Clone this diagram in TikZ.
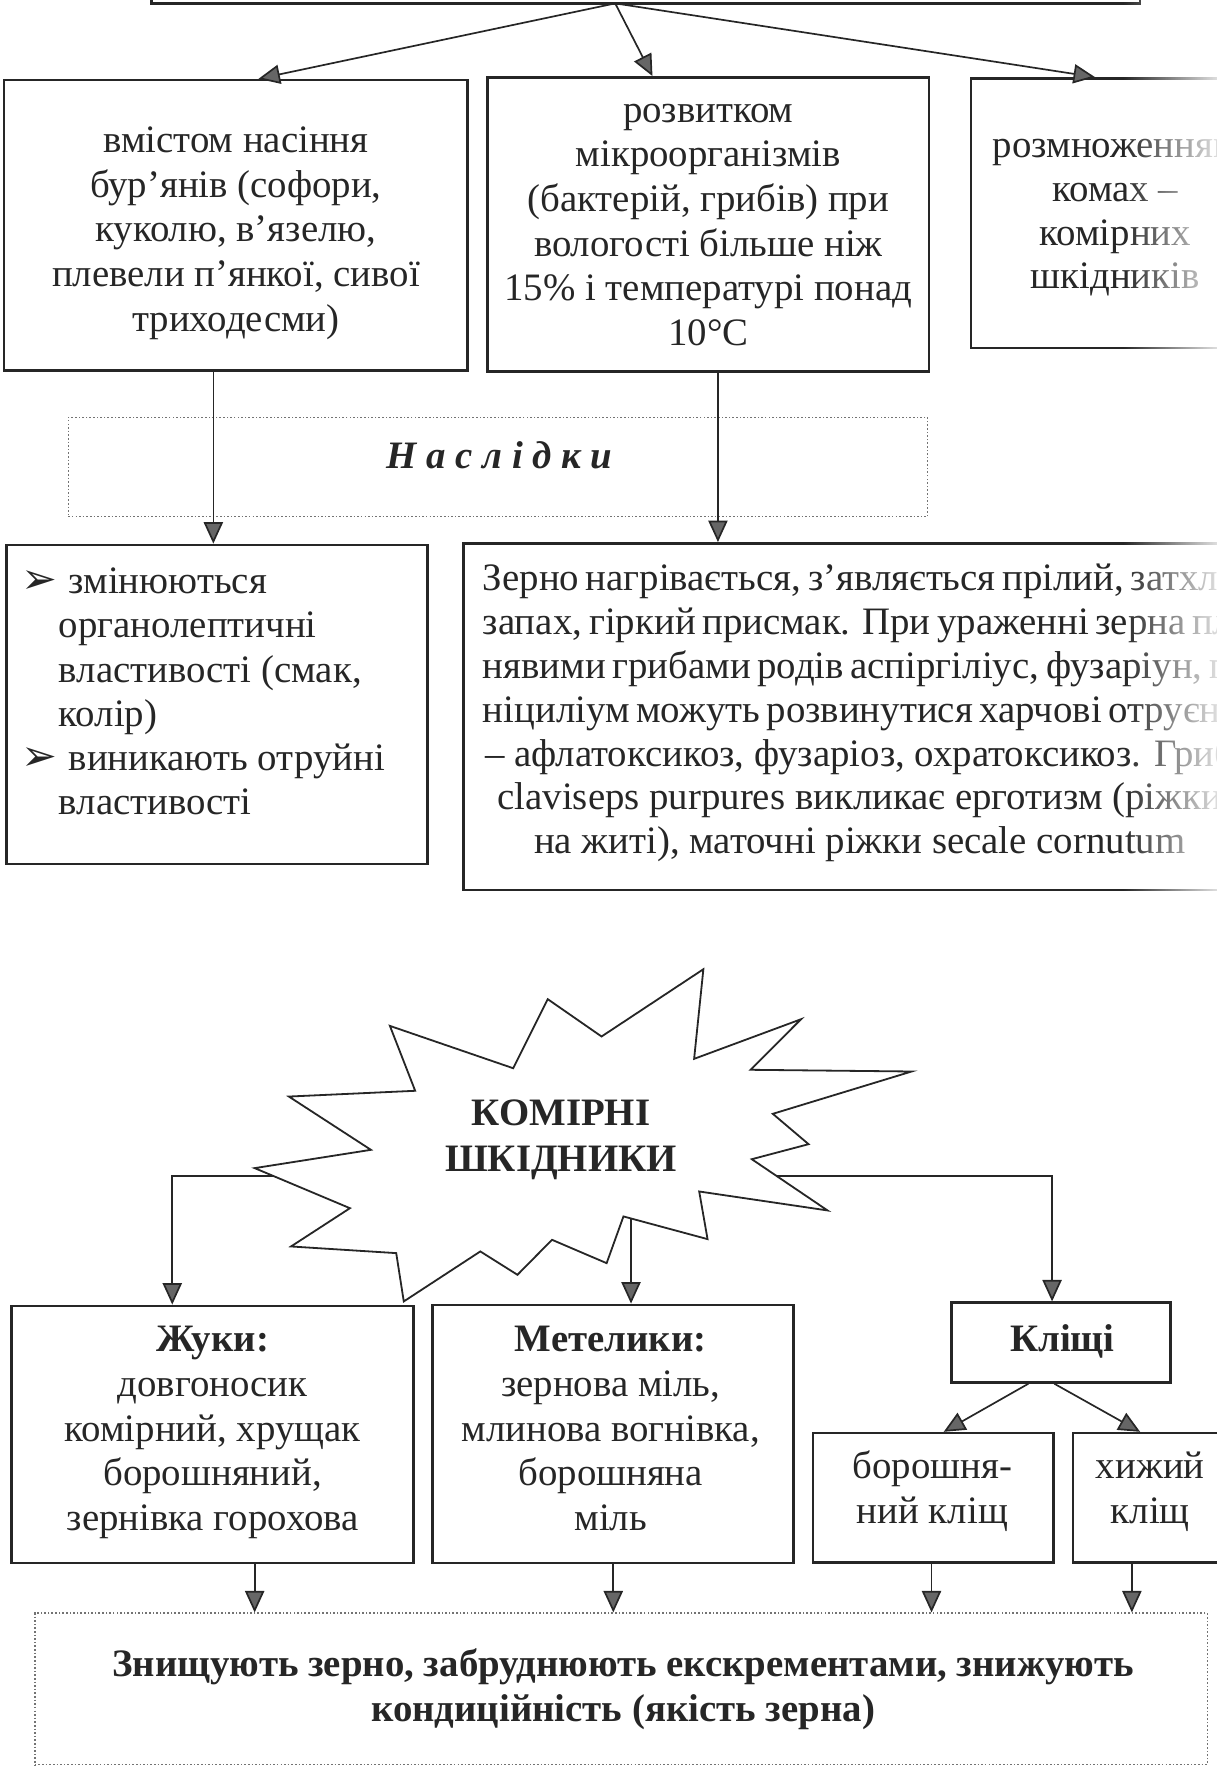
\documentclass[tikz,border=0pt]{standalone}
\usepackage{fontspec}
\setmainfont{Liberation Serif}
\newfontfamily\dejavu{DejaVu Sans}
\usetikzlibrary{arrows.meta,fit,fadings}
\newcommand{\bulmark}{\makebox[20.75pt][l]{\dejavu\fontsize{19pt}{19pt}\selectfont ➢}}
\begin{document}
\begin{tikzpicture}[x=0.5pt,y=-0.5pt,
  box/.style={draw=black!85,line width=1.1pt,inner sep=0pt},
  dbox/.style={draw=black!55,line width=0.6pt,dash pattern=on 0.7pt off 0.9pt,inner sep=0pt},
  txt/.style={inner sep=0pt,text=black!85,align=center,font=\fontsize{17.2pt}{19.8pt}\selectfont},
  btxt/.style={txt,font=\fontsize{17.2pt}{19.8pt}\selectfont\bfseries},
  arr/.style={draw=black!85,line width=0.75pt,-{Triangle[length=9.5pt,width=8.5pt,fill=black!60]}},
  ln/.style={draw=black!85,line width=0.75pt}]
\path[use as bounding box] (0,0) rectangle (1078,1568);
\clip (0,0) rectangle (1078,1568);

% ---------- upper part ----------
\node[box,fit={(134,-40)(1010,3)}] (top) {};
\node[box,fit={(3.4,70.9)(414,328.3)}] (b1) {};
\node[box,fit={(432,68.5)(823,329.2)}] (b2) {};
\node[box,fit={(860,69.4)(1100,308.5)}] (b3) {};

\node[txt,anchor=north,font=\fontsize{17.2pt}{19.9pt}\selectfont] (b1t) at (209,106.5)
 {\strut вмістом насіння\\бур’янів (софори,\\куколю, в’язелю,\\плевели п’янкої, сивої\\триходесми)};
\node[txt,anchor=north] (b2t) at (627.5,80.1)
 {\strut розвитком\\мікроорганізмів\\(бактерій, грибів) при\\вологості більше ніж\\15\% і температурі понад\\10°C};
\node[txt,anchor=north,font=\fontsize{17.2pt}{19.4pt}\selectfont] (b3t) at (988,112)
 {\strut розмноженням\\комах –\\комірних\\шкідників};

\coordinate (src) at (545,3);
\draw[arr] (src) -- (229,0 |- b1.north);
\draw[arr] (src) -- (578,0 |- b2.north);
\draw[arr] (src) -- (970,0 |- b3.north);

\node[dbox,fit={(60.5,369.7)(821.8,457.6)}] (nasl) {};
\node[txt,anchor=base,font=\fontsize{17.2pt}{19.8pt}\selectfont\bfseries\itshape] (naslt) at (442.5,414.8)
 {Н а с л і д к и};

\node[box,fit={(5.9,482.7)(378.8,765.6)}] (b4) {};
\node[box,fit={(410.5,481.3)(1113,788.3)}] (b5) {};

\draw[arr] (189,0 |- b1.south) -- (189,0 |- b4.north);
\draw[arr] (636,0 |- b2.south) -- (636,0 |- b5.north);

\node[txt,align=left,anchor=north west,font=\fontsize{17.2pt}{19.6pt}\selectfont] (b4t) at (19,498)
 {\strut\bulmark змінюються\\
  \hspace*{16.35pt}органолептичні\\
  \hspace*{16.35pt}властивості (смак,\\
  \hspace*{16.35pt}колір)\\
  \bulmark виникають отруйні\\
  \hspace*{16.35pt}властивості};

\node[txt,anchor=north,font=\fontsize{17.2pt}{19.45pt}\selectfont] (b5t) at (761.6,495.4)
 {\strut\makebox[333.8pt][s]{Зерно нагрівається, з’являється прілий, затхлий}\\
  \makebox[333.8pt][s]{запах, гіркий присмак. При ураженні зерна плі-}\\
  \makebox[333.8pt][s]{нявими грибами родів аспіргіліус, фузаріун, пе-}\\
  \makebox[333.8pt][s]{ніциліум можуть розвинутися харчові отруєння}\\
  – афлатоксикоз, фузаріоз, охратоксикоз. Гриб\\
  claviseps purpures викликає ерготизм (ріжки\\
  на житі), маточні ріжки secale cornutum};

% fading of the scanned page edge
\fill[white,opacity=0.85,path fading=west] (995,0) rectangle (1078,830);

% ---------- lower part ----------
\draw[draw=black!85,line width=0.8pt,fill=white]
 (623.1,858.6) -- (614.9,938.0) -- (709.6,902.9) -- (664.9,947.7) -- (807.6,949.2)
 -- (684.6,986.7) -- (716.3,1013.6) -- (666.0,1026.9) -- (733.1,1072.3) -- (619.4,1055.5)
 -- (626.8,1097.7) -- (552.3,1077.6) -- (537.4,1119.0) -- (489.0,1098.3) -- (458.4,1129.3)
 -- (425.5,1108.6) -- (357.7,1152.9) -- (351.0,1110.1) -- (257.8,1104.2) -- (310.0,1070.3)
 -- (225.6,1034.8) -- (328.6,1018.6) -- (255.9,971.4) -- (367.8,966.3) -- (345.4,908.8)
 -- (454.6,946.3) -- (485.2,885.1) -- (532.9,918.2) -- cycle;
\node[btxt,anchor=north,font=\fontsize{17.2pt}{20pt}\selectfont\bfseries] (star) at (497,969)
 {\strut КОМІРНІ\\ШКІДНИКИ};
\coordinate (sl) at (242,1041.7);
\coordinate (sr) at (687.6,1041.5);
\coordinate (sb) at (559,1079.4);

\node[box,fit={(10.3,1156.8)(366.5,1384.7)}] (zh) {};
\node[box,fit={(383,1155.9)(702.8,1384.7)}] (me) {};
\node[box,fit={(843.1,1154)(1037,1224.7)}] (kl) {};
\node[box,fit={(720,1269.5)(933.2,1384.1)}] (bk) {};
\node[box,fit={(950.4,1269.5)(1088,1384.1)}] (hk) {};
\node[dbox,fit={(30.9,1429)(1069.4,1563.3)}] (zn) {};

\node[txt,anchor=north,font=\fontsize{17.2pt}{19.75pt}\selectfont] (zht) at (188.4,1169.5)
 {\strut\textbf{Жуки:}\\довгоносик\\комірний, хрущак\\борошняний,\\зернівка горохова};
\node[txt,anchor=north,font=\fontsize{17.2pt}{19.75pt}\selectfont] (met) at (541,1169.5)
 {\strut\textbf{Метелики:}\\зернова міль,\\млинова вогнівка,\\борошняна\\міль};
\node[btxt,anchor=base] (klt) at (941,1197) {Кліщі};
\node[txt,anchor=north] (bkt) at (826,1281.7) {\strut борошня-\\ний кліщ};
\node[txt,anchor=north] (hkt) at (1019,1281.7) {\strut хижий\\кліщ};
\node[btxt,anchor=north] (znt) at (552,1457)
 {\strut Знищують зерно, забруднюють екскрементами, знижують\\кондиційність (якість зерна)};

\draw[arr] (sl) -| (152.6,0 |- zh.north);
\draw[arr] (sb) -- (559,0 |- me.north);
\draw[arr] (sr) -| (932,0 |- kl.north);
\draw[arr] (911,0 |- kl.south) -- (836,0 |- bk.north);
\draw[arr] (934,0 |- kl.south) -- (1010,0 |- hk.north);
\draw[arr] (225.6,0 |- zh.south) -- (225.6,0 |- zn.north);
\draw[arr] (543.3,0 |- me.south) -- (543.3,0 |- zn.north);
\draw[arr] (825.2,0 |- bk.south) -- (825.2,0 |- zn.north);
\draw[arr] (1002.7,0 |- hk.south) -- (1002.7,0 |- zn.north);
\end{tikzpicture}
\end{document}
